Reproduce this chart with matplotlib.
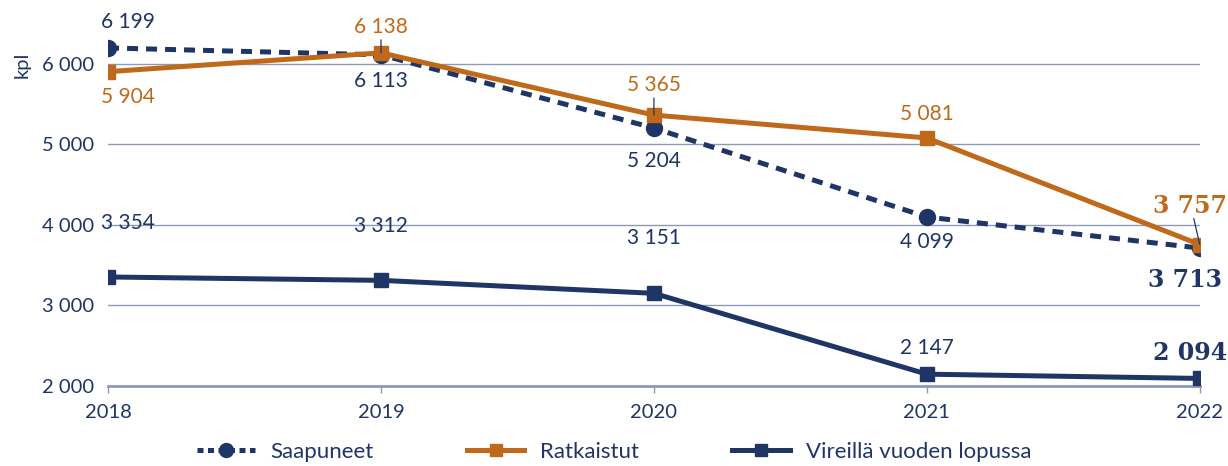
import matplotlib

matplotlib.use("Agg")

import matplotlib.pyplot as plt
from matplotlib.lines import Line2D

years = [2018, 2019, 2020, 2021, 2022]
saapuneet = [6199, 6113, 5204, 4099, 3713]
ratkaistut = [5904, 6138, 5365, 5081, 3757]
vireilla = [3354, 3312, 3151, 2147, 2094]
yticks = [2000, 3000, 4000, 5000, 6000]

NAVY = "#1f3566"
ORANGE = "#c0691b"
GRID = "#8e9ab2"

# label offsets in pixels (dx, dy)
off_saap = [(20, 26), (0, -26), (0, -33), (0, -25), (-15, -32)]
off_ratk = [(20, -25), (0, 26), (0, 30), (0, 24), (-10, 39)]
off_vir = [(20, 54), (0, 54), (0, 55), (0, 26), (-10, 25)]
leader_ratk = [False, True, True, False, True]


def fmt(v):
    return f"{v:,}".replace(",", " ")


plt.rcParams["font.family"] = ["Lato", "DejaVu Sans"]

fig = plt.figure(figsize=(12.28, 4.66), dpi=100)
ax = fig.add_axes([0.088, 0.1717, 0.889, 0.812])

ax.plot(years, vireilla, color=NAVY, lw=3.6, marker="s", ms=10, zorder=3)
ax.plot(years, saapuneet, color=NAVY, lw=3.6, ls=(0, (2.2, 1.6)), marker="o",
        ms=11.5, zorder=4)
ax.plot(years, ratkaistut, color=ORANGE, lw=3.6, marker="s", ms=10, zorder=5)

ax.set_xlim(2018, 2022)
ax.set_ylim(2000, 6700)
ax.set_yticks(yticks)
ax.set_yticklabels([fmt(v) for v in yticks])
ax.set_xticks(years)
ax.set_xticklabels([str(y) for y in years])
ax.tick_params(axis="y", length=0, pad=10, labelsize=14.5, labelcolor=NAVY)
ax.tick_params(axis="x", length=5, width=1, color=GRID, pad=8, labelsize=14.5,
               labelcolor=NAVY)
for yv in yticks[1:]:
    ax.axhline(yv, color=GRID, lw=1, zorder=1)
for s in ["top", "right", "left"]:
    ax.spines[s].set_visible(False)
ax.spines["bottom"].set_color(GRID)
ax.spines["bottom"].set_linewidth(2)
ax.spines["bottom"].set_zorder(2)


def labels(vals, offs, color, leaders=None):
    for i, (x, v) in enumerate(zip(years, vals)):
        dx, dy = offs[i]
        last = i == len(vals) - 1
        kw = dict(fontsize=15, color=color)
        if last:
            kw = dict(fontsize=17, color=color, fontweight="bold",
                      family=["DejaVu Serif"])
        ax.annotate(fmt(v), (x, v), xytext=(dx, dy), textcoords="offset pixels",
                    ha="center", va="center", zorder=6, annotation_clip=False,
                    **kw)
        if leaders and leaders[i]:
            ax.annotate("", (x, v), xytext=(dx * 0.6, dy - 13),
                        textcoords="offset pixels", annotation_clip=False,
                        arrowprops=dict(arrowstyle="-", color=NAVY, lw=0.9,
                                        shrinkA=0, shrinkB=0), zorder=7)


labels(saapuneet, off_saap, NAVY)
labels(ratkaistut, off_ratk, ORANGE, leader_ratk)
labels(vireilla, off_vir, NAVY)

fig.text(0.018, 0.86, "kpl", rotation=90, fontsize=14.5, color=NAVY,
         ha="center", va="center")

handles = [
    Line2D([], [], color=NAVY, lw=3.6, ls=(0, (1.2, 0.9)), marker="o", ms=10),
    Line2D([], [], color=ORANGE, lw=3.6, marker="s", ms=9),
    Line2D([], [], color=NAVY, lw=3.6, marker="s", ms=9),
]
fig.legend(handles, ["Saapuneet", "Ratkaistut", "Vireillä vuoden lopussa"],
           loc="center", bbox_to_anchor=(0.5, 0.03), ncol=3, frameon=False,
           fontsize=16, labelcolor=NAVY, handlelength=2.6, columnspacing=4.2,
           handletextpad=0.7)

fig.savefig("out.png", dpi=100)
